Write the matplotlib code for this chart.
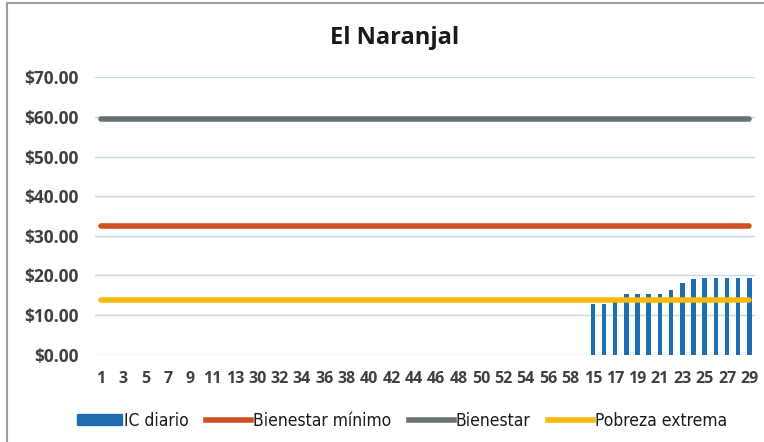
import matplotlib
matplotlib.use("Agg")
import matplotlib.pyplot as plt
from matplotlib.patches import Rectangle
from matplotlib.lines import Line2D
from matplotlib.patches import Patch
from matplotlib.font_manager import FontProperties
import numpy as np

plt.rcParams['font.family'] = ['Open Sans', 'DejaVu Sans']

title = "El Naranjal"
categories = [str(i) for i in range(1, 15)] + [str(i) for i in range(30, 60)] + [str(i) for i in range(15, 30)]
ic_diario = [0] * 44 + [12.7, 12.7, 13.2, 15.4, 15.4, 15.4, 15.4, 16.3, 18.2, 19.0, 19.4, 19.4, 19.4, 19.4, 19.4]
bienestar_minimo = 32.6
bienestar = 59.4
pobreza_extrema = 13.8
yticks = [0, 10, 20, 30, 40, 50, 60, 70]

c_blue = '#1F6EB0'
c_orange = '#D0501F'
c_gray = '#687276'
c_yellow = '#F7BA0B'
c_text = '#404040'

fig = plt.figure(figsize=(7.64, 4.42), dpi=100)
fig.patches.append(Rectangle((7/764, -0.01), 1.2, 1.0 - 3/442 + 0.01, transform=fig.transFigure,
                             fill=False, edgecolor='#A0A0A0', linewidth=1.5))
ax = fig.add_axes([95/764, 1 - 354.7/442, 660/764, (354.7 - 77.3)/442])

x = np.arange(len(categories))
vals = np.array(ic_diario, dtype=float)
mask = vals > 0
ax.bar(x[mask], vals[mask], width=0.4, color=c_blue, zorder=2)
ax.plot(x, [bienestar_minimo] * len(x), color=c_orange, lw=4, solid_capstyle='round', zorder=3)
ax.plot(x, [bienestar] * len(x), color=c_gray, lw=4, solid_capstyle='round', zorder=3)
ax.plot(x, [pobreza_extrema] * len(x), color=c_yellow, lw=4, solid_capstyle='round', zorder=3)

ax.set_xlim(-0.5, len(categories) - 0.5)
ax.set_ylim(0, 70)
ax.set_yticks(yticks)
ax.set_yticklabels([f"${v:.2f}" for v in yticks], fontsize=12.5, color=c_text, fontweight='bold')
ax.set_xticks(x[::2])
ax.set_xticklabels(categories[::2], fontsize=11.5, color=c_text, fontweight='bold')
ax.tick_params(axis='x', length=0, pad=12)
ax.tick_params(axis='y', length=0, pad=12)
ax.grid(axis='y', color='#C6D9E2', lw=1, zorder=0)
for s in ax.spines.values():
    s.set_visible(False)

fig.text(395/764, 1 - 38/442, title, ha='center', va='center', fontsize=17, fontweight='bold', color='#1A1A1A')

handles = [Patch(color=c_blue, label='IC diario'),
           Line2D([], [], color=c_orange, lw=4, label='Bienestar mínimo'),
           Line2D([], [], color=c_gray, lw=4, label='Bienestar'),
           Line2D([], [], color=c_yellow, lw=4, label='Pobreza extrema')]
lp = FontProperties(family=['DejaVu Sans'], stretch='condensed', size=12.5)
fig.legend(handles=handles, loc='center', bbox_to_anchor=(402/764, 1 - 421/442), ncol=4, frameon=False,
           prop=lp, handlelength=2.6, handleheight=0.6, handletextpad=0.1, columnspacing=1.0,
           labelcolor='#1A1A1A')

fig.savefig('out.png', dpi=100)
